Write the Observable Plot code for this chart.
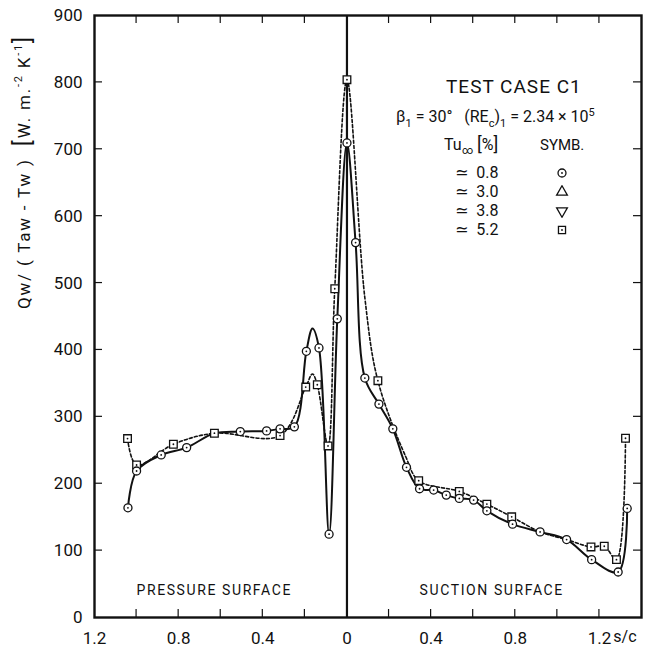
<!DOCTYPE html>
<html><head><meta charset="utf-8">
<script src="https://cdn.jsdelivr.net/npm/d3@7"></script>
<script src="https://cdn.jsdelivr.net/npm/@observablehq/plot@0.6"></script>
<style>
body{margin:0;background:#fff;}
#wrap{position:relative;width:649px;height:653px;font-family:Roboto,"DejaVu Sans",sans-serif;color:#111;}
.lg{position:absolute;white-space:nowrap;font-size:15px;line-height:1;}
</style></head><body><div id="wrap"></div>
<script>
// s/c: pressure surface negative, suction surface positive (labels show absolute value)
const circleS = [-1.041,-1.0,-0.883,-0.762,-0.507,-0.382,-0.318,-0.25,-0.193,-0.133,-0.085,-0.046,0,0.041,0.085,0.152,0.218,0.283,0.345,0.412,0.472,0.534,0.602,0.665,0.787,0.918,1.044,1.163,1.289,1.332];
const circleQ = [164,219,243,254,278,279,282,285,398,403,124.5,446.5,709.5,560.5,358,319,282,224.5,192.5,190.5,183,178,175.5,159.5,139.5,128,116.5,86.5,68,163];
const squareS = [-1.043,-1.0,-0.825,-0.63,-0.318,-0.196,-0.141,-0.09,-0.058,0,0.147,0.341,0.534,0.665,0.783,1.160,1.223,1.281,1.324];
const squareQ = [267.5,228,259,275.5,272,344.5,348,256.5,491.5,804,354,204.5,188.5,169.5,150.5,105.5,106.5,86.5,268];
// fitted curves as drawn in the figure
const solidS = [-1.041,-1.0,-0.883,-0.762,-0.63,-0.507,-0.382,-0.318,-0.25,-0.193,-0.164,-0.133,-0.085,-0.046,0,0.041,0.085,0.152,0.218,0.283,0.345,0.412,0.472,0.534,0.602,0.665,0.787,0.918,1.044,1.163,1.289,1.332];
const solidQ = [164,219,243,254,275.5,278,279,282,285,398,432,403,124.5,446.5,709.5,560.5,358,319,282,224.5,192.5,190.5,183,178,175.5,159.5,139.5,128,116.5,86.5,68,163];
const dashedS = [-1.043,-1.0,-0.825,-0.63,-0.318,-0.196,-0.164,-0.141,-0.09,-0.058,0,0.085,0.147,0.28,0.341,0.534,0.665,0.783,0.918,1.044,1.160,1.223,1.281,1.324];
const dashedQ = [267.5,228,259,275.5,272,344.5,364,348,256.5,491.5,804,478,354,240,204.5,188.5,169.5,150.5,128,116.5,105.5,106.5,86.5,268];
const xTickValues = [-1.2,-0.8,-0.4,0,0.4,0.8,1.2];
const xMinorTicks = [-1.0,-0.8,-0.6,-0.4,-0.2,0.2,0.4,0.6,0.8,1.0,1.2];
const yTickValues = [0,100,200,300,400,500,600,700,800,900];
const yMinorTicks = [100,200,300,400,500,600,700,800];
const legendTu = ["0.8","3.0","3.8","5.2"];
const legendSym = ["circle","triangle","triangle-down","square"];

const solid = solidS.map((s,i)=>({s,q:solidQ[i]}));
const dashed = dashedS.map((s,i)=>({s,q:dashedQ[i]}));
const circles = circleS.map((s,i)=>({s,q:circleQ[i]}));
const squares = squareS.map((s,i)=>({s,q:squareQ[i]}));

const plot = Plot.plot({
  width:649, height:653,
  marginLeft:94, marginRight:8, marginTop:15, marginBottom:36,
  x:{domain:[-1.2,1.4]},
  y:{domain:[0,900]},
  style:{fontFamily:"Roboto, 'DejaVu Sans', sans-serif", fontSize:"16px", color:"#111", background:"#fff"},
  marks:[
    Plot.line(dashed,{x:"s",y:"q",curve:"catmull-rom",stroke:"#111",strokeWidth:1.6,strokeDasharray:"3,2.2"}),
    Plot.line(solid,{x:"s",y:"q",curve:"catmull-rom",stroke:"#111",strokeWidth:2}),
    Plot.ruleX([0],{stroke:"#111",strokeWidth:2.2}),
    Plot.frame({stroke:"#111",strokeWidth:2.4}),
    Plot.axisX({ticks:xTickValues,tickSize:0,tickPadding:14,fontSize:17,tickFormat:d=>d===0?"0":Math.abs(d).toFixed(1),label:null}),
    Plot.axisY({ticks:yTickValues,tickSize:0,tickPadding:12,fontSize:17,label:null}),
    Plot.dot(squares,{x:"s",y:"q",symbol:"square",r:4.3,fill:"#fff",stroke:"#111",strokeWidth:1.3}),
    Plot.dot(circles,{x:"s",y:"q",symbol:"circle",r:4,fill:"#fff",stroke:"#111",strokeWidth:1.3}),
    Plot.dot(squares,{x:"s",y:"q",r:0.9,fill:"#111",stroke:null}),
    Plot.dot(circles,{x:"s",y:"q",r:0.9,fill:"#111",stroke:null})
  ]
});
const wrap = document.getElementById("wrap");
wrap.appendChild(plot);

const svg = d3.select(plot);
const sx = plot.scale("x"), sy = plot.scale("y");
const X = v=>sx.apply(v), Y = v=>sy.apply(v);
const x0 = X(-1.2), x1 = X(1.4), y0 = Y(0), y1 = Y(900);
const g = svg.append("g").attr("stroke","#111").attr("stroke-width",1.2);
xMinorTicks.forEach(t=>{
  g.append("line").attr("x1",X(t)).attr("x2",X(t)).attr("y1",y0).attr("y2",y0-8);
  g.append("line").attr("x1",X(t)).attr("x2",X(t)).attr("y1",y1).attr("y2",y1+8);
});
yMinorTicks.forEach(t=>{
  g.append("line").attr("x1",x0).attr("x2",x0+8).attr("y1",Y(t)).attr("y2",Y(t));
  g.append("line").attr("x1",x1).attr("x2",x1-8).attr("y1",Y(t)).attr("y2",Y(t));
});
// s/c label
svg.append("text").attr("x",X(1.2)+26).attr("y",y0+14).attr("dy","0.71em")
  .attr("font-size",16).attr("fill","#111").text("s/c");
// surface labels
svg.append("text").attr("x",(X(-1.2)+X(0))/2 - 6).attr("y",y0-22).attr("text-anchor","middle")
  .attr("font-size",14).attr("letter-spacing","1.6px").attr("fill","#111").text("PRESSURE SURFACE");
svg.append("text").attr("x",(X(0)+X(1.4))/2 - 2).attr("y",y0-22).attr("text-anchor","middle")
  .attr("font-size",14).attr("letter-spacing","1.6px").attr("fill","#111").text("SUCTION SURFACE");
// y label
const yl = svg.append("text").attr("transform",`translate(30,172) rotate(-90)`)
  .attr("text-anchor","middle").attr("font-size",17).attr("letter-spacing","1.8px").attr("fill","#111");
yl.append("tspan").text("Qw/ ( Taw - Tw )  ");
yl.append("tspan").attr("font-size",23).text("[");
yl.append("tspan").text("W. m.");
yl.append("tspan").attr("font-size",11).attr("dy",-8).text("-2");
yl.append("tspan").attr("dy",8).text(" K");
yl.append("tspan").attr("font-size",11).attr("dy",-8).text("-1");
yl.append("tspan").attr("dy",8).attr("font-size",23).text("]");

// legend (text block inside the plot)
function lg(html,left,top,size){
  const d=document.createElement("div");d.className="lg";d.style.left=left+"px";d.style.top=top+"px";
  if(size)d.style.fontSize=size+"px";d.innerHTML=html;wrap.appendChild(d);return d;}
lg("TEST CASE C1",446,77,19).style.letterSpacing="1px";
lg("β<sub style='font-size:11px'>1</sub> = 30°&nbsp;&nbsp; (RE<sub style='font-size:11px'>c</sub>)<sub style='font-size:11px'>1</sub> = 2.34 × 10<sup style='font-size:11px'>5</sup>",396,107,16);
lg("Tu<sub style='font-size:11px'>∞</sub> <span style='font-size:18px'>[</span>%<span style='font-size:18px'>]</span>",444,135,16);
lg("SYMB.",540,138,15);
legendTu.forEach((t,i)=>{
  lg("≃&nbsp; "+t,455,165+i*19,16);
  const s=d3.select(wrap).append("svg").attr("width",14).attr("height",14)
    .style("position","absolute").style("left","555px").style("top",(166+i*19)+"px");
  const sym = legendSym[i];
  const gen = {circle:d3.symbolCircle,triangle:d3.symbolTriangle,"triangle-down":d3.symbolTriangle,square:d3.symbolSquare}[sym];
  s.append("path").attr("d",d3.symbol(gen,50)()).attr("transform","translate(7,7)"+(sym==="triangle-down"?" rotate(180)":""))
    .attr("fill","#fff").attr("stroke","#111").attr("stroke-width",1.3);
  if(sym==="circle"||sym==="square") s.append("circle").attr("cx",7).attr("cy",7).attr("r",0.9).attr("fill","#111");
});
</script></body></html>
